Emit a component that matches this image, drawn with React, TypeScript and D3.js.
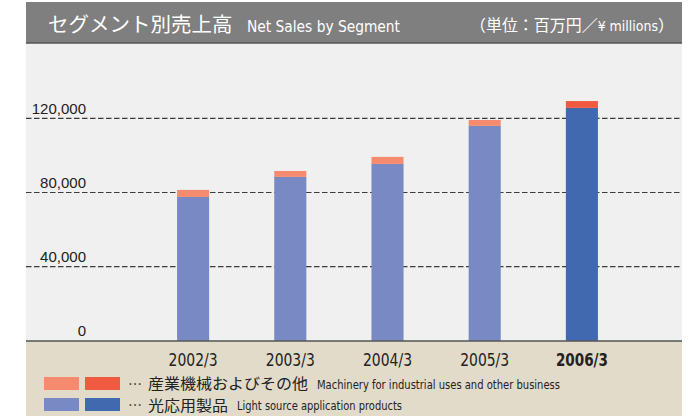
import * as d3 from 'd3';

const years = ['2002/3', '2003/3', '2004/3', '2005/3', '2006/3'];
const lightSource = [77600, 88400, 95400, 115900, 125600];
const industrial = [3800, 3200, 3800, 3200, 3700];
const yTicks = [0, 40000, 80000, 120000];

const W = 697;
const H = 416;
const panelLeft = 26;
const panelRight = 682;
const headerTop = 2;
const headerBottom = 43;
const axisY = 341;

const colors = {
  header: '#7f7f80',
  panel: '#f0f0f0',
  footer: '#e2dbc9',
  industrial: '#f58b6e',
  industrialLast: '#f05a40',
  light: '#7889c4',
  lightLast: '#4169b0',
};

const narrow = '"Liberation Sans Narrow", "DejaVu Sans Condensed", sans-serif';
const jp = '"Noto Sans CJK JP", sans-serif';

export default function App() {
  const x = d3.scaleBand<string>()
    .domain(years)
    .range([144.5, 630.5])
    .paddingInner(0.67)
    .paddingOuter(0.335);

  const y = d3.scaleLinear()
    .domain([0, 120000])
    .range([340.9, 118.3]);

  const fmt = d3.format(',');
  const last = years.length - 1;

  return (
    <svg width={W} height={H} style={{ position: 'absolute', left: 0, top: 0 }}>
      <rect x={0} y={0} width={W} height={H} fill="#fff" />
      {/* panels */}
      <rect x={panelLeft} y={headerBottom} width={panelRight - panelLeft} height={axisY - headerBottom} fill={colors.panel} />
      <rect x={panelLeft} y={axisY} width={panelRight - panelLeft} height={H - axisY} fill={colors.footer} />
      <rect x={panelLeft} y={headerTop} width={panelRight - panelLeft} height={headerBottom - headerTop} fill={colors.header} />
      <line x1={panelLeft} x2={panelRight} y1={headerBottom} y2={headerBottom} stroke="#555" strokeWidth={1.5} />

      {/* header text */}
      <text x={48} y={32} fill="#fff" fontFamily={jp} fontSize={20.5}>セグメント別売上高</text>
      <text x={247} y={32} fill="#fff" fontFamily={narrow} fontSize={16}
        textLength={153} lengthAdjust="spacingAndGlyphs">Net Sales by Segment</text>
      <text x={470} y={31} fill="#fff" fontFamily={jp} fontSize={16}
        textLength={204} lengthAdjust="spacingAndGlyphs">
        （単位：百万円／<tspan fontFamily={narrow} fontSize={14}>¥ millions</tspan>）
      </text>

      {/* gridlines */}
      {yTicks.filter(t => t > 0).map(t => (
        <line key={t} x1={panelLeft} x2={panelRight} y1={y(t)} y2={y(t)}
          stroke="#3a3a3a" strokeWidth={1.2} strokeDasharray="5.5,2.5" />
      ))}
      {yTicks.map(t => (
        <text key={'l' + t} x={86} y={y(t) - 4.5} textAnchor="end" fill="#222"
          fontFamily='"Liberation Sans", sans-serif' fontSize={15}>{fmt(t)}</text>
      ))}

      {/* bars */}
      {years.map((yr, i) => {
        const x0 = x(yr) ?? 0;
        const total = lightSource[i] + industrial[i];
        return (
          <g key={yr}>
            <rect x={x0} width={x.bandwidth()} y={y(lightSource[i])} height={y(0) - y(lightSource[i])}
              fill={i === last ? colors.lightLast : colors.light} />
            <rect x={x0} width={x.bandwidth()} y={y(total)} height={y(lightSource[i]) - y(total)}
              fill={i === last ? colors.industrialLast : colors.industrial} />
          </g>
        );
      })}

      {/* axis */}
      <line x1={panelLeft} x2={panelRight} y1={axisY} y2={axisY} stroke="#555" strokeWidth={1.5} />
      {years.map((yr, i) => {
        const cx = (x(yr) ?? 0) + x.bandwidth() / 2;
        const len = i === last ? 52 : 49;
        return (
          <text key={'x' + yr} x={cx - len / 2} y={366}
            fill="#222" fontFamily={narrow} fontSize={17} fontWeight={i === last ? 'bold' : 'normal'}
            textLength={len} lengthAdjust="spacingAndGlyphs">{yr}</text>
        );
      })}

      {/* legend */}
      <rect x={44} y={377} width={35} height={13} fill={colors.industrial} />
      <rect x={85} y={377} width={35} height={13} fill={colors.industrialLast} />
      <rect x={44} y={398} width={35} height={13} fill={colors.light} />
      <rect x={85} y={398} width={35} height={13} fill={colors.lightLast} />
      <text x={128} y={389} fill="#222" fontFamily={jp} fontSize={14}>…</text>
      <text x={148} y={389} fill="#222" fontFamily={jp} fontSize={15}
        textLength={160} lengthAdjust="spacingAndGlyphs">産業機械およびその他</text>
      <text x={317} y={389} fill="#222" fontFamily={narrow} fontSize={12}
        textLength={243} lengthAdjust="spacingAndGlyphs">Machinery for industrial uses and other business</text>
      <text x={128} y={410} fill="#222" fontFamily={jp} fontSize={14}>…</text>
      <text x={148} y={411} fill="#222" fontFamily={jp} fontSize={15}
        textLength={80} lengthAdjust="spacingAndGlyphs">光応用製品</text>
      <text x={237} y={410} fill="#222" fontFamily={narrow} fontSize={12}
        textLength={165} lengthAdjust="spacingAndGlyphs">Light source application products</text>
    </svg>
  );
}
